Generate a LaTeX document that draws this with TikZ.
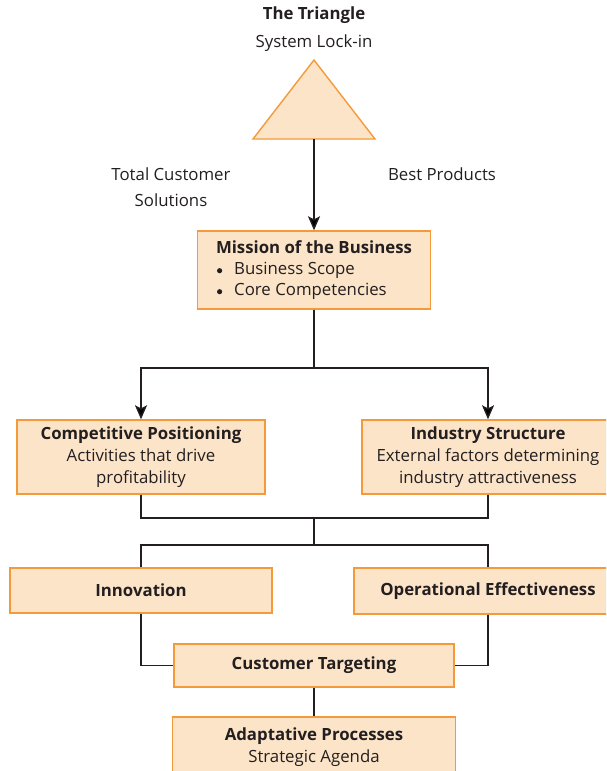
\documentclass[tikz,border=0pt]{standalone}
\usepackage{fontspec}
\setmainfont{Open Sans}
\usetikzlibrary{arrows.meta}
\definecolor{boxfill}{HTML}{FCE4C8}
\definecolor{boxline}{HTML}{F49A3A}
\definecolor{ink}{HTML}{231F20}
\newcommand{\mybul}{\raisebox{0.5pt}{\tikz[baseline=-3.2pt]\fill[ink] (0,0) circle (2.6pt);}}
\tikzset{
  box/.style={draw=boxline, fill=boxfill, line width=1.4pt, align=center, text=ink, inner sep=0pt},
  lbl/.style={text=ink, align=center, inner sep=0pt},
  conn/.style={draw=ink, line width=1.4pt},
  arr/.style={conn, -{Stealth[length=14pt,width=12pt,inset=3pt]}},
}
\begin{document}
\begin{tikzpicture}[x=1pt,y=-1pt, font=\fontsize{16.8}{22}\selectfont]
\useasboundingbox (0,0) rectangle (606,771);
\clip (0,0) rectangle (606,771);
% titles
\node[lbl, font=\fontsize{16.8}{22}\selectfont\bfseries] (title) at (314,15) {The Triangle};
\node[lbl] (lockin) at (314,43) {System Lock-in};
\node[lbl, font=\fontsize{16.8}{26.5}\selectfont] (tcs) at (171,187) {Total Customer\\Solutions};
\node[lbl] (best) at (442,174) {Best Products};
% triangle
\draw[draw=boxline, fill=boxfill, line width=1.4pt] (314,60) -- (375,139) -- (253,139) -- cycle;
\coordinate (tribase) at (314,139);
% boxes
\node[box, minimum width=233pt, minimum height=78pt] (mission) at (314,270)
  {\begin{tabular}{@{}l@{}}\textbf{Mission of the Business}\\[-1pt]
   \hspace{1pt}\mybul\hspace{12pt}Business Scope\\[-1pt]
   \hspace{1pt}\mybul\hspace{12pt}Core Competencies\end{tabular}};
\node[box, minimum width=248pt, minimum height=74pt] (comp) at (141,457)
  {\textbf{Competitive Positioning}\\Activities that drive\\profitability};
\node[box, minimum width=252pt, minimum height=74pt] (ind) at (488,457)
  {\textbf{Industry Structure}\\External factors determining\\industry attractiveness};
\node[box, minimum width=262pt, minimum height=45pt] (innov) at (141,590.5)
  {\textbf{Innovation}};
\node[box, minimum width=268pt, minimum height=46pt] (oper) at (488,591)
  {\textbf{Operational Effectiveness}};
\node[box, minimum width=280pt, minimum height=43pt] (cust) at (314,665.5)
  {\textbf{Customer Targeting}};
\node[box, minimum width=283pt, minimum height=60pt] (adapt) at (314,747)
  {\textbf{Adaptative Processes}\\Strategic Agenda};
% connectors
\coordinate (split1) at (314,368);
\coordinate (join1) at (314,518);
\coordinate (split2) at (314,545);
\draw[arr] (tribase) -- (mission.north);
\draw[conn] (mission.south) -- (split1);
\draw[arr] (split1) -| (comp.north);
\draw[arr] (split1) -| (ind.north);
\draw[conn] (comp.south) |- (join1);
\draw[conn] (ind.south) |- (join1);
\draw[conn] (join1) -- (split2);
\draw[conn] (split2) -| (innov.north);
\draw[conn] (split2) -| (oper.north);
\draw[conn] (innov.south) |- (cust.west);
\draw[conn] (oper.south) |- (cust.east);
\draw[conn] (cust.south) -- (adapt.north);
\end{tikzpicture}
\end{document}
